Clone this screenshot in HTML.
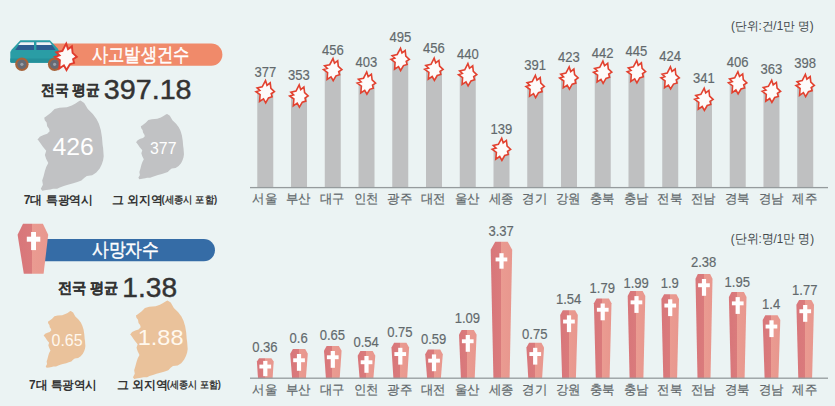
<!DOCTYPE html>
<html><head><meta charset="utf-8"><style>
html,body{margin:0;padding:0;background:#ebf3f3;}
body{width:835px;height:406px;overflow:hidden;position:relative;font-family:"Liberation Sans",sans-serif;}
svg{position:absolute;left:0;top:0;font-family:"Liberation Sans",sans-serif;}
.val{font-size:15px;fill:#62696c;text-anchor:middle;stroke:#62696c;stroke-width:0.18px;}
.lab{font-size:13px;fill:#62696c;text-anchor:middle;stroke:#62696c;stroke-width:0.2px;}
</style></head><body>
<svg width="835" height="406" viewBox="0 0 835 406">
<defs>
<linearGradient id="cg" x1="0" x2="1" y1="0" y2="0">
<stop offset="0" stop-color="#d8767a"/><stop offset="0.48" stop-color="#da7b7c"/><stop offset="0.48" stop-color="#ea9b91"/><stop offset="1" stop-color="#e8978e"/>
</linearGradient>
</defs>
<rect x="257.27" y="91.7" width="16" height="95.9" fill="#bfc0c1"/>
<rect x="291.02" y="96.0" width="16" height="91.6" fill="#bfc0c1"/>
<rect x="324.76" y="69.6" width="16" height="118.0" fill="#bfc0c1"/>
<rect x="358.51" y="83.1" width="16" height="104.5" fill="#bfc0c1"/>
<rect x="392.26" y="59.4" width="16" height="128.2" fill="#bfc0c1"/>
<rect x="426.00" y="69.3" width="16" height="118.3" fill="#bfc0c1"/>
<rect x="459.75" y="74.7" width="16" height="112.9" fill="#bfc0c1"/>
<rect x="493.50" y="149.3" width="16" height="38.3" fill="#bfc0c1"/>
<rect x="527.25" y="86.5" width="16" height="101.1" fill="#bfc0c1"/>
<rect x="560.99" y="78.0" width="16" height="109.6" fill="#bfc0c1"/>
<rect x="594.74" y="72.2" width="16" height="115.4" fill="#bfc0c1"/>
<rect x="628.49" y="71.7" width="16" height="115.9" fill="#bfc0c1"/>
<rect x="662.23" y="77.9" width="16" height="109.7" fill="#bfc0c1"/>
<rect x="695.98" y="99.3" width="16" height="88.3" fill="#bfc0c1"/>
<rect x="729.73" y="82.8" width="16" height="104.8" fill="#bfc0c1"/>
<rect x="763.47" y="91.3" width="16" height="96.3" fill="#bfc0c1"/>
<rect x="797.22" y="85.5" width="16" height="102.1" fill="#bfc0c1"/>
<polygon points="265.5,80.6 267.0,85.3 270.2,82.8 270.9,88.4 274.4,91.7 271.2,93.7 272.1,96.8 268.5,97.9 265.7,102.8 263.5,98.9 259.6,101.5 260.1,94.7 256.0,91.7 259.8,90.5 257.1,87.9 262.2,86.8" fill="#fdfbfa" stroke="#e2412f" stroke-width="1.6" stroke-linejoin="miter"/>
<text x="265.3" y="77.1" class="val" textLength="21.77" lengthAdjust="spacingAndGlyphs">377</text>
<text x="264.8" y="203.2" class="lab" textLength="24.8" lengthAdjust="spacingAndGlyphs">서울</text>
<polygon points="299.2,84.9 300.7,89.6 303.9,87.1 304.6,92.7 308.1,96.0 305.0,98.0 305.8,101.1 302.3,102.2 299.4,107.1 297.2,103.2 293.3,105.8 293.9,99.0 289.7,96.0 293.6,94.8 290.9,92.2 296.0,91.1" fill="#fdfbfa" stroke="#e2412f" stroke-width="1.6" stroke-linejoin="miter"/>
<text x="299.0" y="80.3" class="val" textLength="21.77" lengthAdjust="spacingAndGlyphs">353</text>
<text x="298.5" y="203.2" class="lab" textLength="24.8" lengthAdjust="spacingAndGlyphs">부산</text>
<polygon points="333.0,58.5 334.5,63.2 337.7,60.7 338.3,66.3 341.9,69.6 338.7,71.6 339.6,74.7 336.0,75.8 333.2,80.7 331.0,76.8 327.1,79.4 327.6,72.6 323.5,69.6 327.3,68.4 324.6,65.8 329.7,64.7" fill="#fdfbfa" stroke="#e2412f" stroke-width="1.6" stroke-linejoin="miter"/>
<text x="332.8" y="55.0" class="val" textLength="21.77" lengthAdjust="spacingAndGlyphs">456</text>
<text x="332.3" y="203.2" class="lab" textLength="24.8" lengthAdjust="spacingAndGlyphs">대구</text>
<polygon points="366.7,72.0 368.2,76.7 371.4,74.2 372.1,79.8 375.6,83.1 372.5,85.1 373.3,88.2 369.8,89.3 366.9,94.2 364.7,90.3 360.8,92.9 361.4,86.1 357.2,83.1 361.1,81.9 358.4,79.3 363.5,78.2" fill="#fdfbfa" stroke="#e2412f" stroke-width="1.6" stroke-linejoin="miter"/>
<text x="366.5" y="66.8" class="val" textLength="21.77" lengthAdjust="spacingAndGlyphs">403</text>
<text x="366.0" y="203.2" class="lab" textLength="24.8" lengthAdjust="spacingAndGlyphs">인천</text>
<polygon points="400.5,48.3 402.0,53.0 405.2,50.5 405.8,56.1 409.3,59.4 406.2,61.4 407.1,64.5 403.5,65.6 400.6,70.5 398.5,66.6 394.6,69.2 395.1,62.4 391.0,59.4 394.8,58.2 392.1,55.6 397.2,54.5" fill="#fdfbfa" stroke="#e2412f" stroke-width="1.6" stroke-linejoin="miter"/>
<text x="400.3" y="42.4" class="val" textLength="21.77" lengthAdjust="spacingAndGlyphs">495</text>
<text x="399.8" y="203.2" class="lab" textLength="24.8" lengthAdjust="spacingAndGlyphs">광주</text>
<polygon points="434.2,58.2 435.7,62.9 438.9,60.4 439.6,66.0 443.1,69.3 440.0,71.3 440.8,74.4 437.2,75.5 434.4,80.4 432.2,76.5 428.3,79.1 428.9,72.3 424.7,69.3 428.6,68.1 425.8,65.5 431.0,64.4" fill="#fdfbfa" stroke="#e2412f" stroke-width="1.6" stroke-linejoin="miter"/>
<text x="434.0" y="53.0" class="val" textLength="21.77" lengthAdjust="spacingAndGlyphs">456</text>
<text x="433.5" y="203.2" class="lab" textLength="24.8" lengthAdjust="spacingAndGlyphs">대전</text>
<polygon points="467.9,63.6 469.5,68.3 472.7,65.8 473.3,71.4 476.8,74.7 473.7,76.7 474.6,79.8 471.0,80.9 468.1,85.8 466.0,81.9 462.1,84.5 462.6,77.7 458.5,74.7 462.3,73.5 459.6,70.9 464.7,69.8" fill="#fdfbfa" stroke="#e2412f" stroke-width="1.6" stroke-linejoin="miter"/>
<text x="467.8" y="59.1" class="val" textLength="21.77" lengthAdjust="spacingAndGlyphs">440</text>
<text x="467.3" y="203.2" class="lab" textLength="24.8" lengthAdjust="spacingAndGlyphs">울산</text>
<polygon points="501.7,138.2 503.2,142.9 506.4,140.4 507.1,146.0 510.6,149.3 507.5,151.3 508.3,154.4 504.7,155.5 501.9,160.4 499.7,156.5 495.8,159.1 496.4,152.3 492.2,149.3 496.1,148.1 493.3,145.5 498.4,144.4" fill="#fdfbfa" stroke="#e2412f" stroke-width="1.6" stroke-linejoin="miter"/>
<text x="501.5" y="134.2" class="val" textLength="21.77" lengthAdjust="spacingAndGlyphs">139</text>
<text x="501.0" y="203.2" class="lab" textLength="24.8" lengthAdjust="spacingAndGlyphs">세종</text>
<polygon points="535.4,75.4 537.0,80.1 540.2,77.6 540.8,83.2 544.3,86.5 541.2,88.5 542.1,91.6 538.5,92.7 535.6,97.6 533.5,93.7 529.6,96.3 530.1,89.5 526.0,86.5 529.8,85.3 527.1,82.7 532.2,81.6" fill="#fdfbfa" stroke="#e2412f" stroke-width="1.6" stroke-linejoin="miter"/>
<text x="535.2" y="70.2" class="val" textLength="21.77" lengthAdjust="spacingAndGlyphs">391</text>
<text x="534.7" y="203.2" class="lab" textLength="24.8" lengthAdjust="spacingAndGlyphs">경기</text>
<polygon points="569.2,66.9 570.7,71.6 573.9,69.1 574.6,74.7 578.1,78.0 575.0,80.0 575.8,83.1 572.2,84.2 569.4,89.1 567.2,85.2 563.3,87.8 563.8,81.0 559.7,78.0 563.5,76.8 560.8,74.2 565.9,73.1" fill="#fdfbfa" stroke="#e2412f" stroke-width="1.6" stroke-linejoin="miter"/>
<text x="569.0" y="61.6" class="val" textLength="21.77" lengthAdjust="spacingAndGlyphs">423</text>
<text x="568.5" y="203.2" class="lab" textLength="24.8" lengthAdjust="spacingAndGlyphs">강원</text>
<polygon points="602.9,61.1 604.5,65.8 607.7,63.3 608.3,68.9 611.8,72.2 608.7,74.2 609.6,77.3 606.0,78.4 603.1,83.3 601.0,79.4 597.1,82.0 597.6,75.2 593.5,72.2 597.3,71.0 594.6,68.4 599.7,67.3" fill="#fdfbfa" stroke="#e2412f" stroke-width="1.6" stroke-linejoin="miter"/>
<text x="602.7" y="57.9" class="val" textLength="21.77" lengthAdjust="spacingAndGlyphs">442</text>
<text x="602.2" y="203.2" class="lab" textLength="24.8" lengthAdjust="spacingAndGlyphs">충북</text>
<polygon points="636.7,60.6 638.2,65.3 641.4,62.8 642.1,68.4 645.6,71.7 642.5,73.7 643.3,76.8 639.7,77.9 636.9,82.8 634.7,78.9 630.8,81.5 631.3,74.7 627.2,71.7 631.0,70.5 628.3,67.9 633.4,66.8" fill="#fdfbfa" stroke="#e2412f" stroke-width="1.6" stroke-linejoin="miter"/>
<text x="636.5" y="56.2" class="val" textLength="21.77" lengthAdjust="spacingAndGlyphs">445</text>
<text x="636.0" y="203.2" class="lab" textLength="24.8" lengthAdjust="spacingAndGlyphs">충남</text>
<polygon points="670.4,66.8 672.0,71.5 675.2,69.0 675.8,74.6 679.3,77.9 676.2,79.9 677.1,83.0 673.5,84.1 670.6,89.0 668.4,85.1 664.6,87.7 665.1,80.9 661.0,77.9 664.8,76.7 662.1,74.1 667.2,73.0" fill="#fdfbfa" stroke="#e2412f" stroke-width="1.6" stroke-linejoin="miter"/>
<text x="670.2" y="61.1" class="val" textLength="21.77" lengthAdjust="spacingAndGlyphs">424</text>
<text x="669.7" y="203.2" class="lab" textLength="24.8" lengthAdjust="spacingAndGlyphs">전북</text>
<polygon points="704.2,88.2 705.7,92.9 708.9,90.4 709.6,96.0 713.1,99.3 710.0,101.3 710.8,104.4 707.2,105.5 704.4,110.4 702.2,106.5 698.3,109.1 698.8,102.3 694.7,99.3 698.5,98.1 695.8,95.5 700.9,94.4" fill="#fdfbfa" stroke="#e2412f" stroke-width="1.6" stroke-linejoin="miter"/>
<text x="704.0" y="82.5" class="val" textLength="21.77" lengthAdjust="spacingAndGlyphs">341</text>
<text x="703.5" y="203.2" class="lab" textLength="24.8" lengthAdjust="spacingAndGlyphs">전남</text>
<polygon points="737.9,71.7 739.5,76.4 742.7,73.9 743.3,79.5 746.8,82.8 743.7,84.8 744.6,87.9 741.0,89.0 738.1,93.9 735.9,90.0 732.1,92.6 732.6,85.8 728.5,82.8 732.3,81.6 729.6,79.0 734.7,77.9" fill="#fdfbfa" stroke="#e2412f" stroke-width="1.6" stroke-linejoin="miter"/>
<text x="737.7" y="66.5" class="val" textLength="21.77" lengthAdjust="spacingAndGlyphs">406</text>
<text x="737.2" y="203.2" class="lab" textLength="24.8" lengthAdjust="spacingAndGlyphs">경북</text>
<polygon points="771.7,80.2 773.2,84.9 776.4,82.4 777.1,88.0 780.6,91.3 777.4,93.3 778.3,96.4 774.7,97.5 771.9,102.4 769.7,98.5 765.8,101.1 766.3,94.3 762.2,91.3 766.0,90.1 763.3,87.5 768.4,86.4" fill="#fdfbfa" stroke="#e2412f" stroke-width="1.6" stroke-linejoin="miter"/>
<text x="771.5" y="74.1" class="val" textLength="21.77" lengthAdjust="spacingAndGlyphs">363</text>
<text x="771.0" y="203.2" class="lab" textLength="24.8" lengthAdjust="spacingAndGlyphs">경남</text>
<polygon points="805.4,74.4 806.9,79.1 810.2,76.6 810.8,82.2 814.3,85.5 811.2,87.5 812.1,90.6 808.5,91.7 805.6,96.6 803.4,92.7 799.6,95.3 800.1,88.5 796.0,85.5 799.8,84.3 797.1,81.7 802.2,80.6" fill="#fdfbfa" stroke="#e2412f" stroke-width="1.6" stroke-linejoin="miter"/>
<text x="805.2" y="67.7" class="val" textLength="21.77" lengthAdjust="spacingAndGlyphs">398</text>
<text x="804.7" y="203.2" class="lab" textLength="24.8" lengthAdjust="spacingAndGlyphs">제주</text>
<rect x="250" y="186.95" width="578" height="1.3" fill="#959b9d"/>
<polygon points="259.1,358.3 271.4,358.3 273.7,361.6 272.6,378.2 258.0,378.2 256.9,361.6" fill="url(#cg)"/>
<rect x="263.2" y="360.9" width="4.2" height="15.3" fill="#fff"/>
<rect x="259.4" y="364.6" width="11.7" height="3.9" fill="#fff"/>
<text x="264.9" y="351.9" class="val" textLength="25.40" lengthAdjust="spacingAndGlyphs">0.36</text>
<text x="264.8" y="394.3" class="lab" textLength="24.8" lengthAdjust="spacingAndGlyphs">서울</text>
<polygon points="292.9,349.0 305.2,349.0 307.8,353.8 305.9,378.2 292.1,378.2 290.2,353.8" fill="url(#cg)"/>
<rect x="296.9" y="354.0" width="4.2" height="16.8" fill="#fff"/>
<rect x="293.2" y="358.3" width="11.7" height="3.9" fill="#fff"/>
<text x="298.6" y="343.2" class="val" textLength="18.14" lengthAdjust="spacingAndGlyphs">0.6</text>
<text x="298.5" y="394.3" class="lab" textLength="24.8" lengthAdjust="spacingAndGlyphs">부산</text>
<polygon points="326.6,346.0 338.9,346.0 341.6,350.8 339.7,378.2 325.9,378.2 324.0,350.8" fill="url(#cg)"/>
<rect x="330.7" y="351.0" width="4.2" height="16.8" fill="#fff"/>
<rect x="326.9" y="355.3" width="11.7" height="3.9" fill="#fff"/>
<text x="332.4" y="340.0" class="val" textLength="25.40" lengthAdjust="spacingAndGlyphs">0.65</text>
<text x="332.3" y="394.3" class="lab" textLength="24.8" lengthAdjust="spacingAndGlyphs">대구</text>
<polygon points="360.4,351.0 372.7,351.0 375.3,355.8 373.4,378.2 359.6,378.2 357.7,355.8" fill="url(#cg)"/>
<rect x="364.4" y="356.0" width="4.2" height="16.8" fill="#fff"/>
<rect x="360.7" y="360.3" width="11.7" height="3.9" fill="#fff"/>
<text x="366.1" y="347.4" class="val" textLength="25.40" lengthAdjust="spacingAndGlyphs">0.54</text>
<text x="366.0" y="394.3" class="lab" textLength="24.8" lengthAdjust="spacingAndGlyphs">인천</text>
<polygon points="394.1,342.8 406.4,342.8 409.1,347.6 407.2,378.2 393.4,378.2 391.5,347.6" fill="url(#cg)"/>
<rect x="398.2" y="347.8" width="4.2" height="16.8" fill="#fff"/>
<rect x="394.4" y="352.1" width="11.7" height="3.9" fill="#fff"/>
<text x="399.9" y="336.8" class="val" textLength="25.40" lengthAdjust="spacingAndGlyphs">0.75</text>
<text x="399.8" y="394.3" class="lab" textLength="24.8" lengthAdjust="spacingAndGlyphs">광주</text>
<polygon points="427.9,349.4 440.2,349.4 442.8,354.2 440.9,378.2 427.1,378.2 425.2,354.2" fill="url(#cg)"/>
<rect x="431.9" y="354.4" width="4.2" height="16.8" fill="#fff"/>
<rect x="428.2" y="358.7" width="11.7" height="3.9" fill="#fff"/>
<text x="433.6" y="343.7" class="val" textLength="25.40" lengthAdjust="spacingAndGlyphs">0.59</text>
<text x="433.5" y="394.3" class="lab" textLength="24.8" lengthAdjust="spacingAndGlyphs">대전</text>
<polygon points="461.6,330.0 473.9,330.0 476.6,334.8 474.7,378.2 460.9,378.2 459.0,334.8" fill="url(#cg)"/>
<rect x="465.7" y="335.0" width="4.2" height="16.8" fill="#fff"/>
<rect x="461.9" y="339.3" width="11.7" height="3.9" fill="#fff"/>
<text x="467.4" y="322.8" class="val" textLength="25.40" lengthAdjust="spacingAndGlyphs">1.09</text>
<text x="467.3" y="394.3" class="lab" textLength="24.8" lengthAdjust="spacingAndGlyphs">울산</text>
<polygon points="495.2,241.7 507.7,241.7 512.2,249.7 509.6,378.2 493.4,378.2 490.7,249.7" fill="url(#cg)"/>
<rect x="499.4" y="253.2" width="4.2" height="15.5" fill="#fff"/>
<rect x="495.6" y="257.5" width="11.7" height="3.9" fill="#fff"/>
<text x="501.1" y="236.4" class="val" textLength="25.40" lengthAdjust="spacingAndGlyphs">3.37</text>
<text x="501.0" y="394.3" class="lab" textLength="24.8" lengthAdjust="spacingAndGlyphs">세종</text>
<polygon points="529.1,342.8 541.4,342.8 544.0,347.6 542.1,378.2 528.3,378.2 526.4,347.6" fill="url(#cg)"/>
<rect x="533.1" y="347.8" width="4.2" height="16.8" fill="#fff"/>
<rect x="529.4" y="352.1" width="11.7" height="3.9" fill="#fff"/>
<text x="534.8" y="338.8" class="val" textLength="25.40" lengthAdjust="spacingAndGlyphs">0.75</text>
<text x="534.7" y="394.3" class="lab" textLength="24.8" lengthAdjust="spacingAndGlyphs">경기</text>
<polygon points="562.8,310.3 575.1,310.3 577.8,315.1 575.9,378.2 562.1,378.2 560.2,315.1" fill="url(#cg)"/>
<rect x="566.9" y="315.3" width="4.2" height="16.8" fill="#fff"/>
<rect x="563.1" y="319.6" width="11.7" height="3.9" fill="#fff"/>
<text x="568.6" y="304.3" class="val" textLength="25.40" lengthAdjust="spacingAndGlyphs">1.54</text>
<text x="568.5" y="394.3" class="lab" textLength="24.8" lengthAdjust="spacingAndGlyphs">강원</text>
<polygon points="596.6,298.5 608.9,298.5 611.5,303.3 609.6,378.2 595.8,378.2 593.9,303.3" fill="url(#cg)"/>
<rect x="600.6" y="303.5" width="4.2" height="16.8" fill="#fff"/>
<rect x="596.9" y="307.8" width="11.7" height="3.9" fill="#fff"/>
<text x="602.3" y="293.2" class="val" textLength="25.40" lengthAdjust="spacingAndGlyphs">1.79</text>
<text x="602.2" y="394.3" class="lab" textLength="24.8" lengthAdjust="spacingAndGlyphs">충북</text>
<polygon points="630.3,291.1 642.6,291.1 645.3,295.9 643.4,378.2 629.6,378.2 627.7,295.9" fill="url(#cg)"/>
<rect x="634.4" y="296.1" width="4.2" height="16.8" fill="#fff"/>
<rect x="630.6" y="300.4" width="11.7" height="3.9" fill="#fff"/>
<text x="636.1" y="288.2" class="val" textLength="25.40" lengthAdjust="spacingAndGlyphs">1.99</text>
<text x="636.0" y="394.3" class="lab" textLength="24.8" lengthAdjust="spacingAndGlyphs">충남</text>
<polygon points="664.1,294.3 676.4,294.3 679.0,299.1 677.1,378.2 663.3,378.2 661.4,299.1" fill="url(#cg)"/>
<rect x="668.1" y="299.3" width="4.2" height="16.8" fill="#fff"/>
<rect x="664.4" y="303.6" width="11.7" height="3.9" fill="#fff"/>
<text x="669.8" y="288.2" class="val" textLength="18.14" lengthAdjust="spacingAndGlyphs">1.9</text>
<text x="669.7" y="394.3" class="lab" textLength="24.8" lengthAdjust="spacingAndGlyphs">전북</text>
<polygon points="697.8,274.0 710.1,274.0 712.5,278.8 710.5,378.2 697.5,378.2 695.5,278.8" fill="url(#cg)"/>
<rect x="701.9" y="279.0" width="4.2" height="16.8" fill="#fff"/>
<rect x="698.1" y="283.3" width="11.7" height="3.9" fill="#fff"/>
<text x="703.6" y="267.4" class="val" textLength="25.40" lengthAdjust="spacingAndGlyphs">2.38</text>
<text x="703.5" y="394.3" class="lab" textLength="24.8" lengthAdjust="spacingAndGlyphs">전남</text>
<polygon points="731.6,292.1 743.9,292.1 746.5,296.9 744.6,378.2 730.8,378.2 728.9,296.9" fill="url(#cg)"/>
<rect x="735.6" y="297.1" width="4.2" height="16.8" fill="#fff"/>
<rect x="731.9" y="301.4" width="11.7" height="3.9" fill="#fff"/>
<text x="737.3" y="286.6" class="val" textLength="25.40" lengthAdjust="spacingAndGlyphs">1.95</text>
<text x="737.2" y="394.3" class="lab" textLength="24.8" lengthAdjust="spacingAndGlyphs">경북</text>
<polygon points="765.3,315.3 777.6,315.3 780.3,320.1 778.4,378.2 764.6,378.2 762.7,320.1" fill="url(#cg)"/>
<rect x="769.4" y="320.3" width="4.2" height="16.8" fill="#fff"/>
<rect x="765.6" y="324.6" width="11.7" height="3.9" fill="#fff"/>
<text x="771.1" y="309.2" class="val" textLength="18.14" lengthAdjust="spacingAndGlyphs">1.4</text>
<text x="771.0" y="394.3" class="lab" textLength="24.8" lengthAdjust="spacingAndGlyphs">경남</text>
<polygon points="799.1,300.0 811.4,300.0 814.0,304.8 812.1,378.2 798.3,378.2 796.4,304.8" fill="url(#cg)"/>
<rect x="803.1" y="305.0" width="4.2" height="16.8" fill="#fff"/>
<rect x="799.4" y="309.3" width="11.7" height="3.9" fill="#fff"/>
<text x="804.8" y="294.5" class="val" textLength="25.40" lengthAdjust="spacingAndGlyphs">1.77</text>
<text x="804.7" y="394.3" class="lab" textLength="24.8" lengthAdjust="spacingAndGlyphs">제주</text>
<rect x="250" y="377.55" width="578" height="1.3" fill="#959b9d"/>
<path d="M52,43.5 H211.3 A11.1,11.1 0 0 1 211.3,65.7 H52 Z" fill="#f08a6a"/>
<g>
<path d="M20.4,40.2 H49.9 L57.4,48.2 L58.8,50.5 V61.5 Q58.8,62.8 57.5,62.8 H11.5 Q10.3,62.8 10.3,61.5 V52 L11.8,49.6 Z" fill="#2a9da5"/>
<path d="M10.3,58.5 H58.8 V61.5 Q58.8,62.8 57.5,62.8 H11.5 Q10.3,62.8 10.3,61.5 Z" fill="#24909a"/>
<path d="M20.6,42.2 H34 V50 H15.2 Z" fill="#2d5c90"/><path d="M36.4,42.2 H50 L55.6,50 H36.4 Z" fill="#2d5c90"/>
<path d="M20.6,42.2 H34 V44.9 H18.2 Z" fill="#eef3f5"/><path d="M36.4,42.2 H50 L51.9,44.9 H36.4 Z" fill="#eef3f5"/>
<circle cx="21.9" cy="64.3" r="6.7" fill="#a6633b"/><circle cx="21.9" cy="64.3" r="4.6" fill="#656a74"/><circle cx="21.9" cy="64.3" r="1.6" fill="#9aa0a8"/>
<circle cx="54.6" cy="64.3" r="6.7" fill="#a6633b"/><circle cx="54.6" cy="64.3" r="4.6" fill="#656a74"/><circle cx="54.6" cy="64.3" r="1.6" fill="#9aa0a8"/>
</g>
<polygon points="66.2,43.6 68.0,49.2 71.9,46.2 72.6,52.9 76.8,56.8 73.1,59.2 74.1,62.9 69.9,64.2 66.5,70.0 63.9,65.3 59.3,68.5 59.9,60.3 55.0,56.8 59.5,55.4 56.3,52.3 62.4,51.0" fill="#fdfaf8" stroke="#e03a2c" stroke-width="1.9"/>
<path d="M44,239.1 H203.9 A11.1,11.1 0 0 1 203.9,261.3 H44 Z" fill="#356ca6"/>
<polygon points="23,223.8 42.9,223.8 48.2,234.8 43.6,273.8 23.8,273.8 17.6,234.8" fill="url(#cg)"/>
<rect x="31.1" y="232" width="4.9" height="18.1" fill="#fff"/><rect x="26.8" y="236.7" width="13.5" height="5" fill="#fff"/>
<defs><path id="kmap" d="M43.1,0.0 L46.8,2.4 L50.4,8.6 L55.4,13.5 L59.1,18.4 L61.5,23.3 L63.4,29.5 L64.6,36.9 L65.2,44.3 L65.7,47.6 L66.3,55.7 L65.7,59.8 L64.3,63.9 L62.3,67.9 L58.9,72.0 L54.8,74.7 L49.4,75.4 L46.7,77.4 L44.0,80.1 L40.0,81.5 L35.9,82.8 L30.5,84.2 L26.4,85.5 L22.4,86.9 L19.7,88.2 L15.6,88.2 L12.9,88.9 L8.8,89.5 L4.8,90.2 L3.4,88.2 L5.5,84.2 L4.8,80.1 L6.1,76.0 L7.5,70.6 L8.8,66.6 L10.9,62.5 L8.8,58.4 L7.5,54.4 L8.8,50.3 L5.5,46.3 L2.7,42.2 L0.7,39.5 L0.0,39.3 L2.4,36.3 L6.1,34.4 L9.8,33.2 L12.3,30.7 L11.6,28.3 L9.8,25.8 L9.2,22.1 L7.4,19.7 L6.8,17.2 L8.6,16.0 L13.5,12.3 L17.2,8.5 L22.1,7.3 L29.5,6.7 L34.4,4.9 L38.1,3.0 L41.8,0.5Z"/></defs>
<use href="#kmap" transform="translate(37.4,100.5)" fill="#c1c2c4"/>
<use href="#kmap" transform="translate(135.9,113.9) scale(0.725)" fill="#c1c2c4"/>
<use href="#kmap" transform="translate(43.6,311) scale(0.63)" fill="#eac29b"/>
<use href="#kmap" transform="translate(130,300.5) scale(0.87)" fill="#eac29b"/>
<text x="731.00" y="29.98" font-size="11.98" font-weight="normal" fill="#41474a" textLength="82.78" lengthAdjust="spacingAndGlyphs" >(단위:건/1만 명)</text>
<text x="730.79" y="243.13" font-size="12.71" font-weight="normal" fill="#41474a" textLength="83.39" lengthAdjust="spacingAndGlyphs" >(단위:명/1만 명)</text>
<text x="91.95" y="61.39" font-size="19.33" font-weight="normal" fill="#ffffff" textLength="97.65" lengthAdjust="spacingAndGlyphs" stroke="#fff" stroke-width="0.45">사고발생건수</text>
<text x="41.01" y="95.04" font-size="15.05" font-weight="bold" fill="#333" textLength="58.99" lengthAdjust="spacingAndGlyphs" stroke="#333" stroke-width="0.15">전국 평균</text>
<text x="103.75" y="98.73" font-size="27.04" font-weight="normal" fill="#333" textLength="87.84" lengthAdjust="spacingAndGlyphs" stroke="#333" stroke-width="0.45">397.18</text>
<text x="91.73" y="256.49" font-size="19.33" font-weight="normal" fill="#ffffff" textLength="67.22" lengthAdjust="spacingAndGlyphs" stroke="#fff" stroke-width="0.45">사망자수</text>
<text x="57.69" y="292.59" font-size="15.38" font-weight="bold" fill="#333" textLength="61.04" lengthAdjust="spacingAndGlyphs" stroke="#333" stroke-width="0.15">전국 평균</text>
<text x="122.35" y="296.52" font-size="28.31" font-weight="normal" fill="#333" textLength="54.76" lengthAdjust="spacingAndGlyphs" stroke="#333" stroke-width="0.45">1.38</text>
<text x="52.50" y="155.15" font-size="24.51" font-weight="normal" fill="#ffffff" textLength="41.40" lengthAdjust="spacingAndGlyphs" >426</text>
<text x="150.07" y="153.53" font-size="16.62" font-weight="normal" fill="#ffffff" textLength="26.40" lengthAdjust="spacingAndGlyphs" >377</text>
<text x="51.56" y="346.24" font-size="16.48" font-weight="normal" fill="#fff8ee" textLength="31.08" lengthAdjust="spacingAndGlyphs" >0.65</text>
<text x="137.72" y="345.38" font-size="22.39" font-weight="normal" fill="#fff8ee" textLength="45.77" lengthAdjust="spacingAndGlyphs" >1.88</text>
<text x="23.72" y="203.52" font-size="12.26" font-weight="bold" fill="#333" textLength="69.39" lengthAdjust="spacingAndGlyphs" >7대 특광역시</text>
<text x="111.78" y="203.52" font-size="12.26" font-weight="bold" fill="#333" textLength="51.06" lengthAdjust="spacingAndGlyphs" >그 외지역</text>
<text x="161.53" y="203.34" font-size="10.31" font-weight="bold" fill="#3a3a3a" textLength="55.57" lengthAdjust="spacingAndGlyphs" >(세종시 포함)</text>
<text x="29.03" y="388.52" font-size="12.26" font-weight="bold" fill="#333" textLength="68.05" lengthAdjust="spacingAndGlyphs" >7대 특광역시</text>
<text x="117.08" y="388.52" font-size="12.26" font-weight="bold" fill="#333" textLength="51.06" lengthAdjust="spacingAndGlyphs" >그 외지역</text>
<text x="166.84" y="388.41" font-size="10.41" font-weight="bold" fill="#3a3a3a" textLength="54.15" lengthAdjust="spacingAndGlyphs" >(세종시 포함)</text>
</svg>
</body></html>
